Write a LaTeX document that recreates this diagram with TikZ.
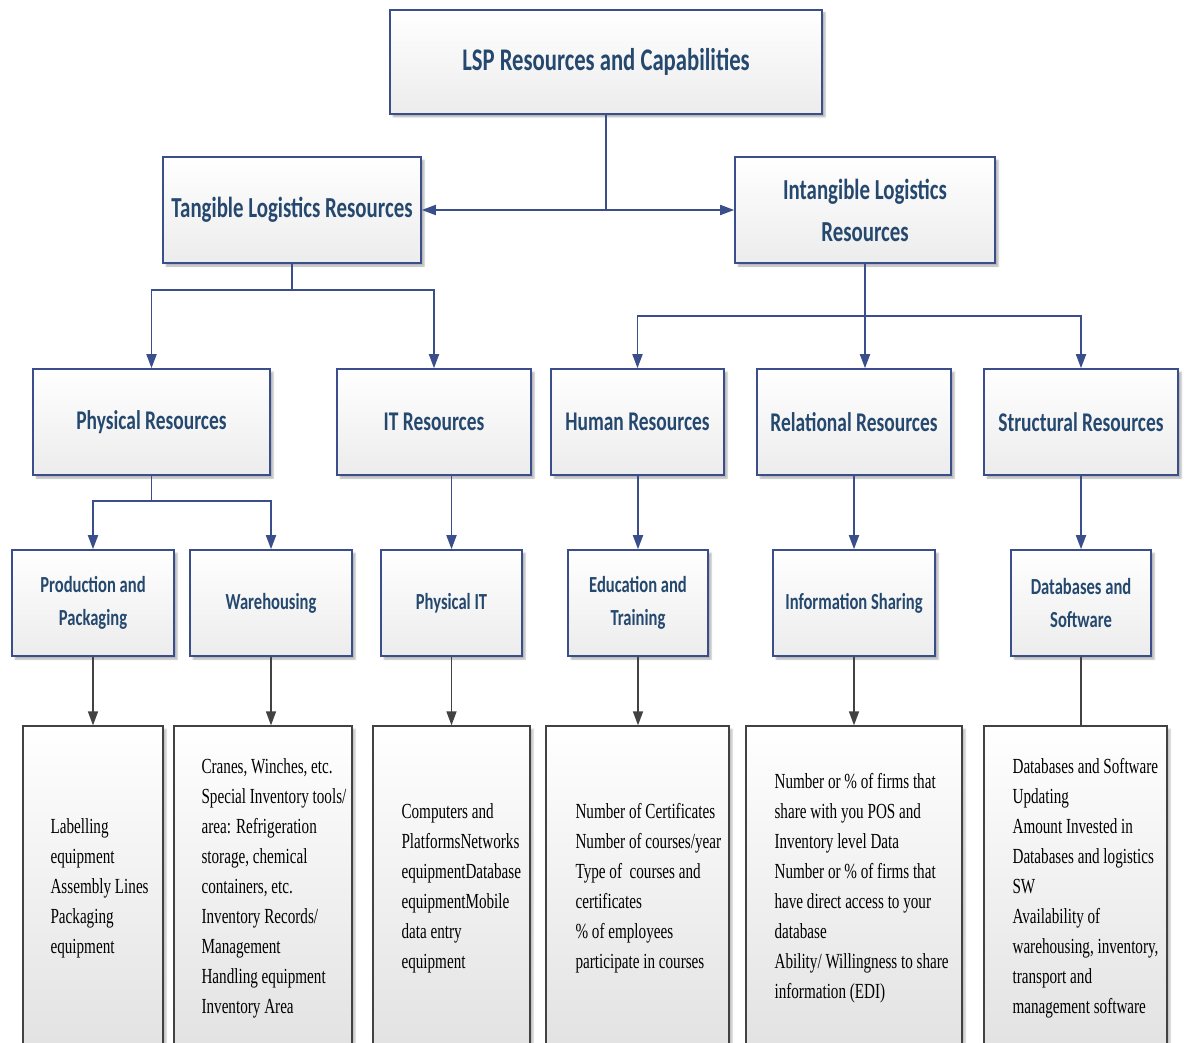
\documentclass[tikz,border=0pt]{standalone}
\usepackage{fontspec}
\newfontfamily\headfont[FakeStretch=0.72]{Carlito}
\newfontfamily\bodyfont[FakeStretch=0.705]{Liberation Serif}
\usetikzlibrary{arrows.meta,shadows.blur}
\definecolor{boxline}{RGB}{58,78,140}
\definecolor{headtext}{RGB}{37,72,110}
\definecolor{darkline}{RGB}{66,66,66}
\definecolor{shadegray}{RGB}{236,236,236}
\definecolor{lowgray}{RGB}{226,226,226}
\begin{document}
\begin{tikzpicture}[x=1pt,y=-1pt,
  hbox/.style={draw=boxline, line width=1.6pt, top color=white, bottom color=shadegray,
    inner sep=0pt, align=center, text=headtext,
    blur shadow={shadow xshift=3pt, shadow yshift=-3pt, shadow opacity=30, shadow blur steps=4}},
  dbox/.style={draw=darkline, line width=1.3pt, top color=white, bottom color=lowgray,
    inner sep=0pt,
    blur shadow={shadow xshift=3pt, shadow yshift=-3pt, shadow opacity=25, shadow blur steps=4}},
  dtext/.style={anchor=west, align=left, inner sep=0pt, text=black,
    font=\bodyfont\fontsize{21.5}{30}\selectfont},
  fA/.style={font=\headfont\bfseries\fontsize{31.5}{40}\selectfont},
  fB/.style={font=\headfont\bfseries\fontsize{29}{42}\selectfont},
  fC/.style={font=\headfont\bfseries\fontsize{27}{34}\selectfont},
  fD/.style={font=\headfont\bfseries\fontsize{23}{33}\selectfont},
  bl/.style={draw=boxline, line width=1.8pt},
  barrow/.style={bl, -{Triangle[length=14pt,width=10pt]}},
  gl/.style={draw=darkline, line width=1.5pt},
  garrow/.style={gl, -{Triangle[length=14pt,width=10pt]}}
]
\useasboundingbox (0,0) rectangle (1184,1043);
\clip (0,0) rectangle (1184,1043);

% top level
\node[hbox, fA, minimum width=432pt, minimum height=104pt] (lsp) at (606,62) {LSP Resources and Capabilities};

% second level
\node[hbox, fB, minimum width=258pt, minimum height=106pt] (tang) at (292,210) {Tangible Logistics Resources};
\node[hbox, fB, minimum width=260pt, minimum height=106pt] (intang) at (865,210) {Intangible Logistics\\Resources};

% third level
\node[hbox, fC, minimum width=237pt, minimum height=106pt] (phys) at (151.5,422) {Physical Resources};
\node[hbox, fC, minimum width=194pt, minimum height=106pt] (itr) at (434,422) {IT Resources};
\node[hbox, fC, minimum width=173pt, minimum height=106pt] (hum) at (637.5,422) {Human Resources};
\node[hbox, fC, minimum width=194pt, minimum height=106pt] (rel) at (854,422) {Relational Resources};
\node[hbox, fC, minimum width=194pt, minimum height=106pt] (struc) at (1081,422) {Structural Resources};

% fourth level
\node[hbox, fD, minimum width=162pt, minimum height=106pt] (prod) at (93,603) {Production and\\Packaging};
\node[hbox, fD, minimum width=162pt, minimum height=106pt] (ware) at (271,603) {Warehousing};
\node[hbox, fD, minimum width=141pt, minimum height=106pt] (pit) at (451.5,603) {Physical IT};
\node[hbox, fD, minimum width=140pt, minimum height=106pt] (edu) at (638,603) {Education and\\Training};
\node[hbox, fD, minimum width=162pt, minimum height=106pt] (info) at (854,603) {Information Sharing};
\node[hbox, fD, minimum width=140pt, minimum height=106pt] (db) at (1081,603) {Databases and\\Software};

% detail boxes
\node[dbox, minimum width=140pt, minimum height=324pt] (d1) at (93,888) {};
\node[dbox, minimum width=178pt, minimum height=324pt] (d2) at (263,888) {};
\node[dbox, minimum width=157pt, minimum height=324pt] (d3) at (451.5,888) {};
\node[dbox, minimum width=183pt, minimum height=324pt] (d4) at (637.5,888) {};
\node[dbox, minimum width=216pt, minimum height=324pt] (d5) at (854,888) {};
\node[dbox, minimum width=183pt, minimum height=324pt] (d6) at (1075.5,888) {};

\node[dtext] (d1t) at ([xshift=28pt]d1.west) {Labelling\\equipment\\Assembly Lines\\Packaging\\equipment};
\node[dtext] (d2t) at ([xshift=28pt]d2.west) {Cranes, Winches, etc.\\Special Inventory tools/\\area: Refrigeration\\storage, chemical\\containers, etc.\\Inventory Records/\\Management\\Handling equipment\\Inventory Area};
\node[dtext] (d3t) at ([xshift=29pt]d3.west) {Computers and\\PlatformsNetworks\\equipmentDatabase\\equipmentMobile\\data entry\\equipment};
\node[dtext] (d4t) at ([xshift=30pt]d4.west) {Number of Certificates\\Number of courses/year\\Type of~ courses and\\certificates\\\% of employees\\participate in courses};
\node[dtext] (d5t) at ([xshift=29pt]d5.west) {Number or \% of firms that\\share with you POS and\\Inventory level Data\\Number or \% of firms that\\have direct access to your\\database\\Ability/ Willingness to share\\information (EDI)};
\node[dtext] (d6t) at ([xshift=29pt]d6.west) {Databases and Software\\Updating\\Amount Invested in\\Databases and logistics\\SW\\Availability of\\warehousing, inventory,\\transport and\\management software};

% connectors: top to second level
\coordinate (j1) at (lsp.south |- tang.east);
\draw[bl] (lsp.south) -- (j1);
\draw[barrow] (j1) -- (tang.east);
\draw[barrow] (j1) -- (intang.west);

% tangible branch
\coordinate (t1) at (292,290);
\draw[bl] (tang.south) -- (t1);
\draw[barrow] (t1) -| (phys.north);
\draw[barrow] (t1) -| (itr.north);

% intangible branch
\coordinate (i1) at (865,316);
\draw[bl] (intang.south) -- (i1);
\draw[barrow] (i1) -| (hum.north);
\draw[barrow] (i1) -- (i1 |- rel.north);
\draw[barrow] (i1) -| (struc.north);

% physical resources branch
\coordinate (p1) at (151.5,501);
\draw[bl] (phys.south) -- (p1);
\draw[barrow] (p1) -| (prod.north);
\draw[barrow] (p1) -| (ware.north);

% single links third to fourth level
\draw[barrow] (pit.north |- itr.south) -- (pit.north);
\draw[barrow] (edu.north |- hum.south) -- (edu.north);
\draw[barrow] (rel.south) -- (info.north);
\draw[barrow] (struc.south) -- (db.north);

% fourth level to detail boxes
\draw[garrow] (prod.south) -- (d1.north);
\draw[garrow] (ware.south) -- (ware.south |- d2.north);
\draw[garrow] (pit.south) -- (d3.north);
\draw[garrow] (edu.south) -- (edu.south |- d4.north);
\draw[garrow] (info.south) -- (d5.north);
\draw[gl] (db.south) -- (db.south |- d6.north);
\end{tikzpicture}
\end{document}
